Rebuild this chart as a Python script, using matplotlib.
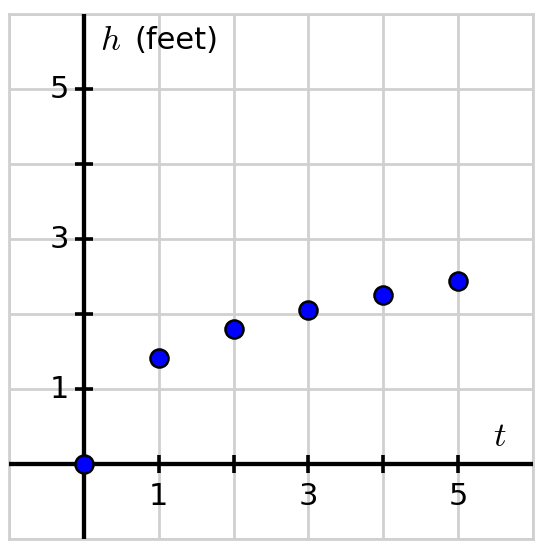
import matplotlib.pyplot as plt

# data
t_vals = [0, 1, 2, 3, 4, 5]
h_vals = [0, 1.42, 1.80, 2.05, 2.25, 2.44]
tick_pos = [1, 2, 3, 4, 5]
label_pos = [1, 3, 5]
label_txt = ['1', '3', '5']

plt.rcParams['mathtext.fontset'] = 'cm'

fig = plt.figure(figsize=(5.43, 5.54), dpi=100)
ax = fig.add_axes([9 / 543, 15 / 554, 524 / 543, 525 / 554])
ax.set_xlim(-1, 6)
ax.set_ylim(-1, 6)

# grid
ax.set_xticks(range(-1, 7))
ax.set_yticks(range(-1, 7))
ax.grid(True, color='#d0d0d0', linewidth=2)
ax.tick_params(length=0, labelbottom=False, labelleft=False)
for s in ax.spines.values():
    s.set_color('#d0d0d0')
    s.set_linewidth(2)

# axes through origin
ax.axhline(0, color='black', linewidth=3.1, zorder=3)
ax.axvline(0, color='black', linewidth=3.1, zorder=3)

# tick marks
ax.plot(tick_pos, [0] * len(tick_pos), ls='none', marker='|', markersize=13,
        mew=2.6, color='black', zorder=4)
ax.plot([0] * len(tick_pos), tick_pos, ls='none', marker='_', markersize=13,
        mew=2.6, color='black', zorder=4)

# tick labels
for p, s in zip(label_pos, label_txt):
    ax.text(p, -0.43, s, ha='center', va='center', fontsize=22, zorder=5)
    ax.text(-0.2, p, s, ha='right', va='center', fontsize=22, zorder=5)

# axis labels
ax.text(0.22, 5.65, r'$h$', ha='left', va='center', fontsize=25, zorder=5)
ax.text(0.67, 5.65, '(feet)', ha='left', va='center', fontsize=22, zorder=5)
ax.text(5.55, 0.38, r'$t$', ha='center', va='center', fontsize=25, zorder=5)

# points
ax.plot(t_vals, h_vals, ls='none', marker='o', markersize=13,
        markerfacecolor='#0000ff', markeredgecolor='black', mew=1.8,
        zorder=6, clip_on=False)

plt.savefig('out.png', dpi=100)
plt.close()
